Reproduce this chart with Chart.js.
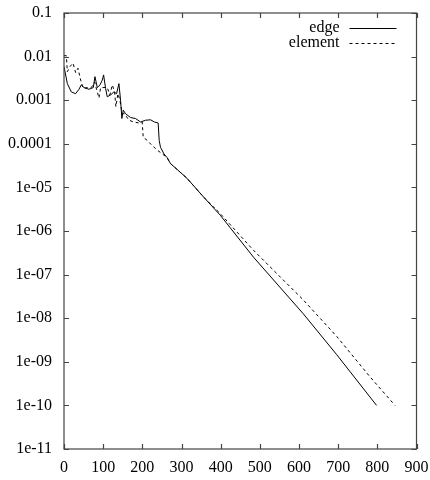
<!DOCTYPE html>
<html>
<head>
<meta charset="utf-8">
<script src="https://cdn.jsdelivr.net/npm/chart.js@4/dist/chart.umd.min.js"></script>
<style>
  html, body { margin: 0; padding: 0; background: #fff; }
  #wrap { width: 430px; height: 480px; }
</style>
</head>
<body>
<div id="wrap"><canvas id="residual"></canvas></div>
<script>
// residual history, edge-based vs element-based scheme
const edgeX = [0, 8.5, 18.7, 29.7, 38.2, 44.2, 51, 63.7, 74.8, 79, 85, 91.8, 97.7, 101.1, 106.2,
  110.4, 119, 127.4, 134.2, 140.2, 144.4, 147.8, 151.2, 157.2, 170, 182.7, 195.4, 208.2, 221,
  231, 240.4, 243, 246.4, 255, 263.4, 271.5, 314, 356.5, 399, 484, 611, 696.5, 798];
const edgeY = [5.9e-3, 2.4e-3, 1.55e-3, 1.41e-3, 1.78e-3, 2.24e-3, 1.95e-3, 1.78e-3, 1.95e-3,
  3.47e-3, 1.95e-3, 2.24e-3, 2.88e-3, 3.8e-3, 1.86e-3, 1.2e-3, 1.32e-3, 1.55e-3, 1.41e-3,
  2.4e-3, 1.0e-3, 3.8e-4, 5.9e-4, 4.9e-4, 4.0e-4, 3.8e-4, 3.16e-4, 3.47e-4, 3.55e-4, 3.16e-4,
  3.0e-4, 1.2e-4, 8.3e-5, 5.9e-5, 4.8e-5, 3.55e-5, 1.62e-5, 6.0e-6, 2.3e-6, 2.5e-7, 1.26e-8,
  1.45e-9, 1e-10];

const elementX = [0, 6, 8.5, 15.3, 23, 29.7, 35.7, 42.5, 49.3, 59.5, 69.7, 78.2, 85, 89.2, 93.5,
  102, 110.4, 117.2, 123.2, 129.1, 132.5, 137.6, 142.7, 148.7, 154.6, 165.7, 178.4, 191.2,
  199.7, 202.2, 212.4, 225.1, 237.9, 250.6, 263.4, 271.5, 314, 356.5, 399, 484, 611.4, 696.5,
  781.5, 845];
const elementY = [1.05e-2, 1.05e-2, 4.5e-3, 5.9e-3, 7.1e-3, 4.3e-3, 5.4e-3, 2.9e-3, 1.86e-3,
  1.95e-3, 1.95e-3, 2.6e-3, 1.55e-3, 1.12e-3, 1.95e-3, 1.95e-3, 1.95e-3, 1.32e-3, 2.24e-3,
  1.55e-3, 7.1e-4, 1.41e-3, 1.0e-3, 4.9e-4, 4.9e-4, 3.47e-4, 3.16e-4, 3.0e-4, 3.16e-4,
  1.41e-4, 1.2e-4, 9.1e-5, 7.2e-5, 5.9e-5, 4.8e-5, 3.55e-5, 1.62e-5, 6.0e-6, 2.5e-6, 3.6e-7,
  2.6e-8, 3.8e-9, 4.5e-10, 1e-10];

const seriesNames = ['edge', 'element'];
const yTickValues = [1e-11, 1e-10, 1e-9, 1e-8, 1e-7, 1e-6, 1e-5, 1e-4, 1e-3, 1e-2, 1e-1];
const yTickLabels = ['1e-11', '1e-10', '1e-09', '1e-08', '1e-07', '1e-06', '1e-05',
  '0.0001', '0.001', '0.01', '0.1'];
const xMin = 0, xMax = 900, xStep = 100;

const FONT = { family: '"Liberation Serif", "DejaVu Serif", serif', size: 16 };

function zip(xs, ys) {
  return xs.map((x, i) => ({ x: x, y: ys[i] }));
}

// gnuplot-ish frame: full border plus inward ticks on all four sides
const framePlugin = {
  id: 'frame',
  afterDraw(chart) {
    const { ctx, chartArea: a, scales } = chart;
    const len = 5;
    ctx.save();
    ctx.strokeStyle = '#444';
    ctx.lineWidth = 1.2;
    ctx.strokeRect(a.left, a.top, a.right - a.left, a.bottom - a.top);
    ctx.beginPath();
    scales.x.ticks.forEach(t => {
      const px = Math.round(scales.x.getPixelForValue(t.value)) + 0.5;
      ctx.moveTo(px, a.bottom); ctx.lineTo(px, a.bottom - len);
      ctx.moveTo(px, a.top); ctx.lineTo(px, a.top + len);
    });
    scales.y.ticks.forEach(t => {
      const py = Math.round(scales.y.getPixelForValue(t.value)) + 0.5;
      ctx.moveTo(a.left, py); ctx.lineTo(a.left + len, py);
      ctx.moveTo(a.right, py); ctx.lineTo(a.right - len, py);
    });
    ctx.stroke();

    // key in the top right corner: label right-aligned, line sample after it
    ctx.font = FONT.size + 'px ' + FONT.family;
    ctx.textAlign = 'right';
    ctx.textBaseline = 'middle';
    ctx.fillStyle = '#000';
    ctx.strokeStyle = '#000';
    ctx.lineWidth = 1;
    chart.data.datasets.forEach((ds, i) => {
      const y = a.top + 15 + i * 15;
      ctx.fillText(ds.label, a.right - 77, y);
      ctx.setLineDash(ds.borderDash || []);
      ctx.beginPath();
      ctx.moveTo(a.right - 67, y + 0.5);
      ctx.lineTo(a.right - 20, y + 0.5);
      ctx.stroke();
    });
    ctx.restore();
  }
};

new Chart(document.getElementById('residual'), {
  type: 'line',
  data: {
    datasets: [
      {
        label: seriesNames[0],
        data: zip(edgeX, edgeY),
        borderColor: '#000',
        borderWidth: 1,
        pointRadius: 0,
        tension: 0,
        fill: false
      },
      {
        label: seriesNames[1],
        data: zip(elementX, elementY),
        borderColor: '#000',
        borderWidth: 1,
        borderDash: [3, 3],
        pointRadius: 0,
        tension: 0,
        fill: false
      }
    ]
  },
  options: {
    responsive: true,
    maintainAspectRatio: false,
    devicePixelRatio: 1,
    animation: false,
    layout: { padding: { left: 0, right: 13.5, top: 13, bottom: 0 } },
    plugins: {
      legend: { display: false },
      tooltip: { enabled: false }
    },
    scales: {
      x: {
        type: 'linear',
        min: xMin,
        max: xMax,
        grid: { display: false, drawTicks: false },
        border: { display: false },
        ticks: { stepSize: xStep, color: '#000', font: FONT, padding: 9, maxRotation: 0 },
        afterFit(scale) {
          // fixed box; label overhang must not push the plot area around
          scale.height = 31;
          scale.paddingLeft = 0;
          scale.paddingRight = 0;
        }
      },
      y: {
        type: 'logarithmic',
        min: yTickValues[0],
        max: yTickValues[yTickValues.length - 1],
        grid: { display: false, drawTicks: false },
        border: { display: false },
        afterBuildTicks(scale) {
          scale.ticks = yTickValues.map(v => ({ value: v }));
        },
        ticks: {
          autoSkip: false,
          color: '#000',
          font: FONT,
          padding: 12,
          callback: (value, index) => yTickLabels[index]
        },
        afterFit(scale) {
          scale.width = 64;
          scale.paddingTop = 0;
          scale.paddingBottom = 0;
        }
      }
    }
  },
  plugins: [framePlugin]
});
</script>
</body>
</html>
